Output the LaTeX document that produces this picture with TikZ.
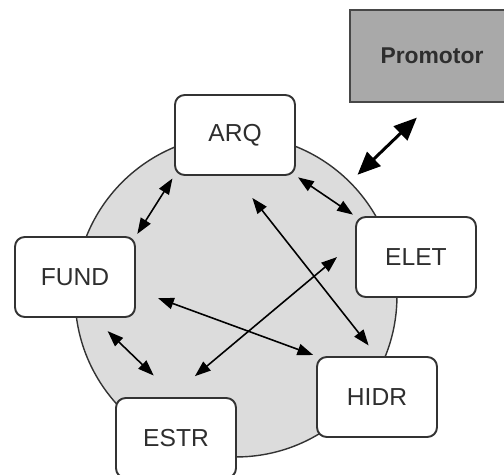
\documentclass[tikz,border=0pt]{standalone}
\usepackage{fontspec}
\setmainfont{Liberation Sans}
\usetikzlibrary{arrows.meta}

\definecolor{discfill}{HTML}{DCDCDC}
\definecolor{boxline}{HTML}{333333}
\definecolor{labeltext}{HTML}{2E2E2E}
\definecolor{promofill}{HTML}{A9A9A9}

\tikzset{
  disc/.style={draw=boxline,line width=0.8pt,fill=discfill,circle,minimum size=6.44cm,inner sep=0pt},
  area/.style={draw=boxline,line width=1.1pt,fill=white,rounded corners=5.5pt,
    minimum width=2.4cm,minimum height=1.6cm,inner sep=0pt,
    font=\fontsize{14}{16}\selectfont,text=labeltext},
  promo/.style={draw=boxline!90,line width=1.2pt,fill=promofill,
    minimum width=3.28cm,minimum height=1.84cm,inner sep=0pt,
    font=\fontsize{13}{15}\selectfont\bfseries,text=labeltext},
  link/.style={{Triangle[length=9pt,width=6.5pt]}-{Triangle[length=9pt,width=6.5pt]},line width=0.9pt},
  biglink/.style={{Triangle[length=13pt,width=11pt]}-{Triangle[length=13pt,width=11pt]},line width=1.7pt}
}

\begin{document}
\begin{tikzpicture}[x=0.02cm,y=-0.02cm]
  \clip (0,0) rectangle (504,475);
  \useasboundingbox (0,0) rectangle (504,475);

  \node[disc] (hub) at (236,296) {};

  \node[promo] (promotor) at (432,56) {Promotor};

  \node[area] (arq) at (235,135) {ARQ};
  \node[area] (fund) at (75,277) {FUND};
  \node[area] (elet) at (416,257) {ELET};
  \node[area] (hidr) at (377,397) {HIDR};
  \node[area] (estr) at (176,438) {ESTR};

  \draw[biglink,shorten <=0.2cm,shorten >=0.42cm] (hub.45) -- (promotor.south);

  \draw[link,shorten <=0.06cm,shorten >=0.05cm] (arq.south west) -- (fund.north east);
  \draw[link,shorten <=0.05cm,shorten >=0.05cm] (arq.south east) -- (elet.north west);
  \draw[link,shorten <=0.56cm,shorten >=0.27cm] (arq.south) -- (hidr.north);
  \draw[link,shorten <=0.47cm,shorten >=0.65cm] ([yshift=0.3cm]elet.west) -- ([xshift=-0.12cm]estr.north);
  \draw[link,shorten <=0.47cm,shorten >=0.06cm] ([yshift=-0.26cm]fund.east) -- (hidr.north west);
  \draw[link,shorten <=0.38cm,shorten >=0.62cm] ([xshift=0.38cm]fund.south) -- (estr.north);
\end{tikzpicture}
\end{document}
